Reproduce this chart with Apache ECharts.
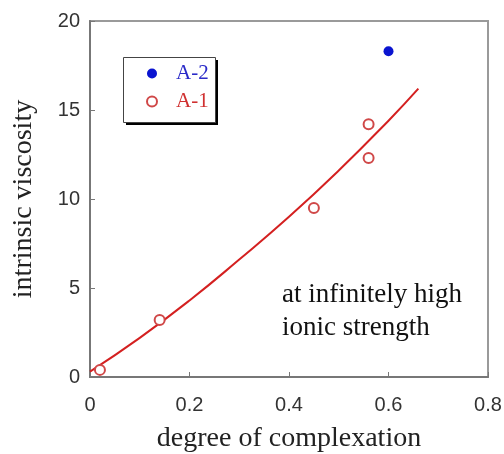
<!DOCTYPE html>
<html>
<head>
<meta charset="utf-8">
<script src="https://cdn.jsdelivr.net/npm/echarts@6/dist/echarts.min.js"></script>
<style>
  html, body { margin: 0; padding: 0; background: #fff; }
  #main { width: 504px; height: 454px; }
</style>
</head>
<body>
<div id="main"></div>
<script>
// data
const a1Points = [[0.02, 0.4], [0.14, 3.2], [0.45, 9.5], [0.56, 14.2], [0.56, 12.3]];
const a2Points = [[0.6, 18.3]];
const fitX = [0, 0.1, 0.2, 0.3, 0.4, 0.5, 0.6, 0.66];
const fitY = [0.3, 2.2, 4.3, 6.6, 9.0, 11.6, 14.4, 16.2];
const xTicks = [0, 0.2, 0.4, 0.6, 0.8];
const yTicks = [0, 5, 10, 15, 20];

const fitData = fitX.map((x, i) => [x, fitY[i]]);

let chart = echarts.init(document.getElementById('main'), null, { renderer: 'canvas' });

const sans = 'Liberation Sans';
const serif = 'Liberation Serif';

let option = {
  animation: false,
  backgroundColor: '#fff',
  grid: {
    left: 90, top: 21, width: 398, height: 356,
    outerBoundsMode: 'none',
    show: true, borderColor: '#9a9a9a', borderWidth: 2
  },
  xAxis: {
    type: 'value',
    min: xTicks[0], max: xTicks[xTicks.length - 1], interval: 0.2,
    name: 'degree of complexation',
    nameLocation: 'middle', nameGap: 48,
    nameTextStyle: { fontFamily: serif, fontSize: 28, color: '#222' },
    axisLine: { show: true, lineStyle: { color: '#777', width: 2 } },
    axisTick: { show: true, inside: true, length: 5, lineStyle: { color: '#777' } },
    axisLabel: { fontFamily: sans, fontSize: 20, color: '#333', margin: 18 },
    splitLine: { show: false }
  },
  yAxis: {
    type: 'value',
    min: yTicks[0], max: yTicks[yTicks.length - 1], interval: 5,
    name: 'intrinsic viscosity',
    nameLocation: 'middle', nameGap: 52,
    nameTextStyle: { fontFamily: serif, fontSize: 28, color: '#222' },
    axisLine: { show: true, lineStyle: { color: '#777', width: 2 } },
    axisTick: { show: true, inside: true, length: 5, lineStyle: { color: '#777' } },
    axisLabel: { fontFamily: sans, fontSize: 20, color: '#333', margin: 10 },
    splitLine: { show: false }
  },
  legend: {
    orient: 'vertical',
    left: 146, top: 63,
    padding: 0,
    itemGap: 7,
    itemWidth: 10, itemHeight: 10,
    textStyle: { fontFamily: serif, fontSize: 21, padding: [0, 0, 0, 14] },
    data: [
      { name: 'A-2', textStyle: { color: '#2a2ac8' } },
      { name: 'A-1', textStyle: { color: '#d03030' } }
    ],
    z: 10
  },
  graphic: [
    {
      // legend drop shadow
      type: 'rect', left: 126, top: 60, z: 4,
      shape: { width: 92, height: 65 },
      style: { fill: '#000' }
    },
    {
      // legend frame
      type: 'rect', left: 123, top: 57, z: 5,
      shape: { width: 92, height: 65 },
      style: { fill: '#fff', stroke: '#444', lineWidth: 1 }
    },
    {
      type: 'text', left: 282, top: 278,
      style: {
        text: 'at infinitely high\nionic strength',
        fontFamily: serif, fontSize: 27, lineHeight: 33, fill: '#111'
      }
    }
  ],
  series: [
    {
      name: 'fit',
      type: 'line',
      data: fitData,
      smooth: true,
      showSymbol: false,
      lineStyle: { color: '#d42020', width: 2 },
      z: 2
    },
    {
      name: 'A-1',
      type: 'scatter',
      data: a1Points,
      symbol: 'emptyCircle',
      symbolSize: 10,
      itemStyle: { color: '#d04848', borderColor: '#d04848', borderWidth: 1.5, opacity: 1 },
      z: 3
    },
    {
      name: 'A-2',
      type: 'scatter',
      data: a2Points,
      symbol: 'circle',
      symbolSize: 10,
      itemStyle: { color: '#0a14d0', opacity: 1 },
      z: 3
    }
  ]
};

chart.setOption(option);
</script>
</body>
</html>
